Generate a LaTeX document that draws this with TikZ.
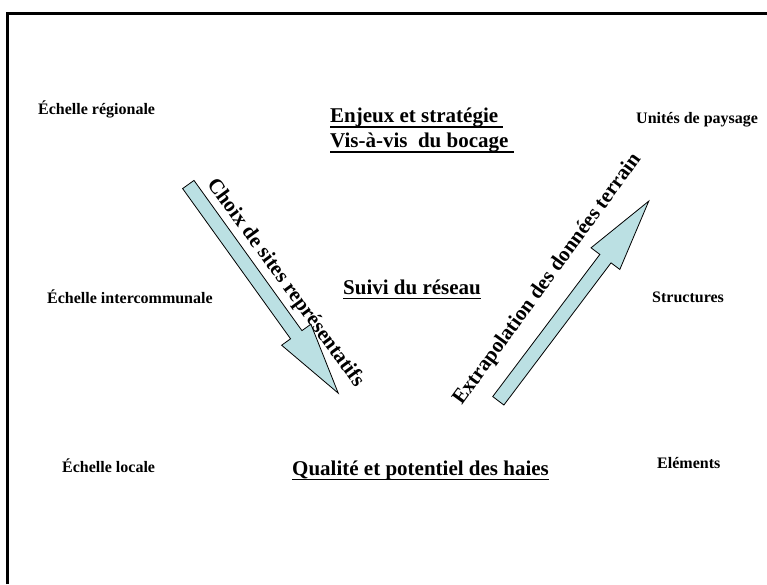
\documentclass[tikz,border=0pt]{standalone}
\usepackage{fontspec}
\setmainfont{Liberation Serif}
\usetikzlibrary{positioning}
\definecolor{bleupale}{RGB}{187,224,227}
\newcommand{\souligne}[1]{\setbox0\hbox{#1}\rlap{\vrule width\wd0 height -3.5pt depth 5.3pt}\box0}

\begin{document}
\begin{tikzpicture}[x=1pt,y=1pt,
  petit/.style={font=\fontsize{16}{19}\selectfont\bfseries, anchor=base west, inner sep=0},
  grand/.style={font=\fontsize{21}{25}\selectfont\bfseries, anchor=base west, inner sep=0},
  fleche/.style={draw=black, line width=0.8, fill=bleupale},
  bordure/.style={line width=3, line join=miter}]
\useasboundingbox (0,0) rectangle (767,584);
\draw[bordure](7,0) -- (7,570) -- (767,570);

% fleches
\draw[fleche, shift={(188.3,399.5)}, rotate=-54.3] (0,-7) -- (185,-7) -- (185,-18) -- (257,0) -- (185,18) -- (185,7) -- (0,7) -- cycle;
\draw[fleche, shift={(498.3,183.2)}, rotate=53] (0,-7) -- (178,-7) -- (178,-18) -- (250,0) -- (178,18) -- (178,7) -- (0,7) -- cycle;

% echelles
\node[petit] (regional) at (38,469) {Échelle régionale};
\node[petit] (intercom) at (47,280) {Échelle intercommunale};
\node[petit] (locale) at (62,112) {Échelle locale};

% niveaux
\node[grand] (enjeux) at (330,461) {\souligne{Enjeux et stratégie\ }};
\node[grand] (visavis) at (330,436) {\souligne{Vis-à-vis\ \ du bocage\ }};
\node[grand] (suivi) at (343,290) {\souligne{Suivi du réseau}};
\node[grand] (qualite) at (292,109) {\souligne{Qualité et potentiel des haies}};

% objets
\node[petit] (unites) at (636,460) {Unités de paysage};
\node[petit] (structures) at (652,282) {Structures};
\node[petit] (elements) at (657,116) {Eléments};

% textes des fleches
\node[grand, anchor=base, rotate=-53.8] (choix) at (281,298) {Choix de sites représentatifs};
\node[grand, anchor=base, rotate=54] (extrap) at (551.5,301.5) {Extrapolation des données terrain};
\end{tikzpicture}
\end{document}
